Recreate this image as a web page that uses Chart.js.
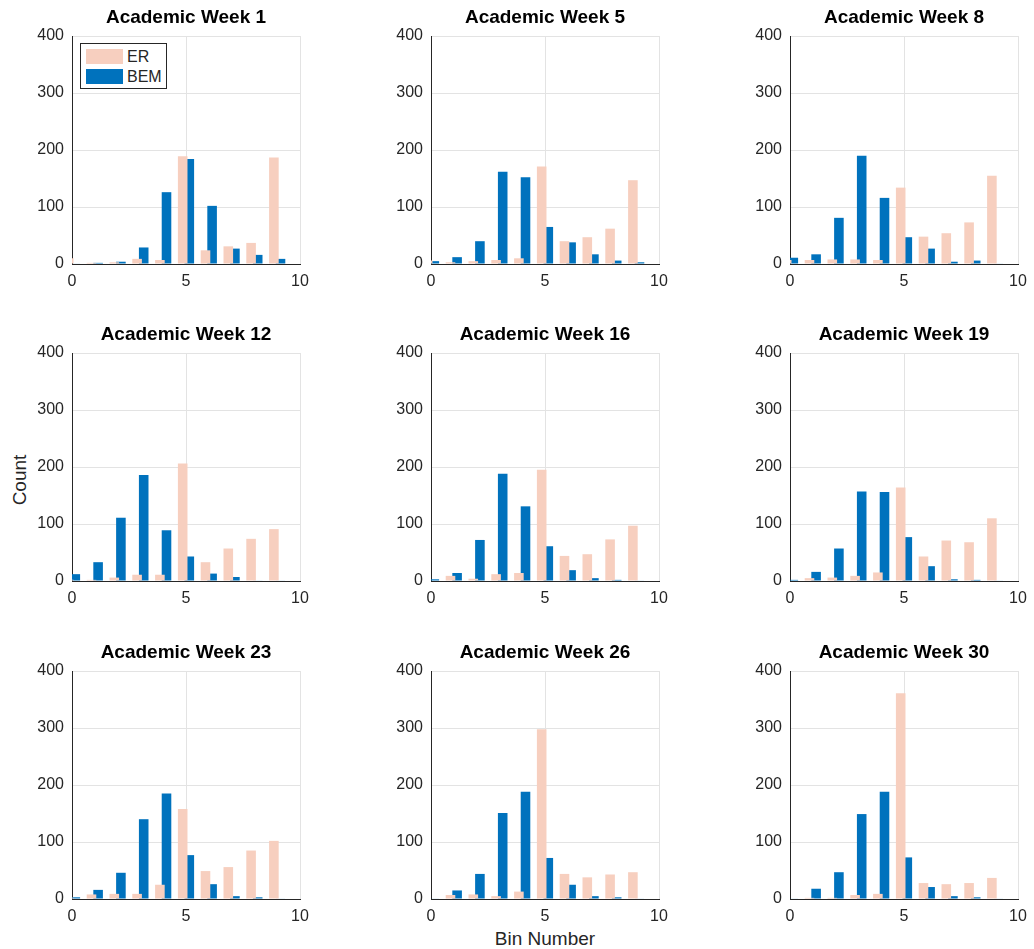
<!DOCTYPE html>
<html>
<head>
<meta charset="utf-8">
<script src="https://cdn.jsdelivr.net/npm/chart.js@4"></script>
<style>
  body { margin: 0; background: #fff; width: 1034px; height: 949px; position: relative; overflow: hidden;
         font-family: "Liberation Sans", Arial, sans-serif; color: #262626; }
  canvas.panel { position: absolute; }
  .label { position: absolute; font-size: 19px; line-height: 22px; color: #262626; white-space: nowrap; }
  #legend { position: absolute; left: 80px; top: 43px; width: 85px; height: 44px; border: 1px solid #262626;
            background: #fff; font-size: 16px; }
  #legend .row { position: absolute; left: 5px; height: 15px; }
  #legend .sw { position: absolute; left: 0; top: 0; width: 37px; height: 15px; }
  #legend .tx { position: absolute; left: 41px; top: -2px; line-height: 19px; }
</style>
</head>
<body>

<div class="label" style="left:20px; top:480px; transform: translate(-50%, -50%) rotate(-90deg);">Count</div>
<div class="label" style="left:545px; top:939px; transform: translate(-50%, -50%);">Bin Number</div>

<script>
// ### data ###
const BINS = [0, 1, 2, 3, 4, 5, 6, 7, 8, 9];
const WEEKS = [1, 5, 8, 12, 16, 19, 23, 26, 30];
const Y_TICKS = [0, 100, 200, 300, 400];
const X_TICKS = [0, 5, 10];

const ER_W1  = [10, 2, 3, 9, 7, 189, 24, 31, 37, 187];
const BEM_W1 = [1, 2, 4, 29, 126, 184, 102, 27, 16, 9];
const ER_W5  = [6, 3, 5, 7, 10, 171, 40, 47, 62, 147];
const BEM_W5 = [5, 12, 40, 162, 152, 65, 38, 17, 6, 3];
const ER_W8  = [7, 7, 8, 8, 7, 134, 48, 54, 73, 155];
const BEM_W8 = [11, 17, 81, 190, 116, 47, 27, 4, 6, 1];
const ER_W12  = [2, 2, 6, 11, 11, 206, 33, 57, 74, 91];
const BEM_W12 = [12, 33, 111, 186, 89, 43, 13, 7, 1, 1];
const ER_W16  = [1, 9, 4, 12, 14, 195, 44, 47, 73, 97];
const BEM_W16 = [3, 14, 72, 188, 131, 61, 19, 5, 2, 1];
const ER_W19  = [1, 5, 6, 9, 15, 164, 43, 71, 68, 110];
const BEM_W19 = [2, 16, 57, 157, 156, 77, 26, 3, 2, 1];
const ER_W23  = [2, 8, 9, 9, 25, 158, 49, 56, 85, 102];
const BEM_W23 = [3, 16, 46, 140, 185, 77, 26, 5, 3, 1];
const ER_W26  = [1, 7, 8, 5, 13, 298, 44, 38, 43, 47];
const BEM_W26 = [1, 15, 44, 151, 188, 72, 25, 5, 3, 1];
const ER_W30  = [1, 2, 2, 7, 9, 361, 28, 26, 28, 37];
const BEM_W30 = [1, 18, 47, 149, 188, 73, 21, 5, 3, 1];

const ER_SERIES  = [ER_W1, ER_W5, ER_W8, ER_W12, ER_W16, ER_W19, ER_W23, ER_W26, ER_W30];
const BEM_SERIES = [BEM_W1, BEM_W5, BEM_W8, BEM_W12, BEM_W16, BEM_W19, BEM_W23, BEM_W26, BEM_W30];

// ### colors ###
const PEACH = "#f7cfbf";
const BLUE = "#0072bd";
const AXIS = "#262626";
const GRID = "#e3e3e3";

// ### layout ###
const COL_LEFT = [72, 431, 790];
const ROW_TOP = [36, 353, 671];
const PLOT = 228;
const SIDE = 50; // room for y tick labels; the right side only needs room for the "10" label
const X_AXIS_H = 30;
const TITLE_H = 40;
const FONT = "Liberation Sans, Arial, sans-serif";

function toPoints(values) {
  return BINS.map((b, i) => ({ x: b, y: values[i] }));
}

function renderPanel(index) {
  const row = Math.floor(index / 3);
  const col = index % 3;
  const canvas = document.createElement("canvas");
  canvas.className = "panel";
  canvas.style.left = (COL_LEFT[col] - SIDE) + "px";
  canvas.style.top = (ROW_TOP[row] - TITLE_H) + "px";
  canvas.style.width = (SIDE + PLOT + SIDE) + "px";
  canvas.style.height = (TITLE_H + PLOT + X_AXIS_H) + "px";
  document.body.appendChild(canvas);

  new Chart(canvas, {
    type: "bar",
    data: {
      datasets: [
        { label: "ER", data: toPoints(ER_SERIES[index]), backgroundColor: PEACH, borderWidth: 0 },
        { label: "BEM", data: toPoints(BEM_SERIES[index]), backgroundColor: BLUE, borderWidth: 0 },
      ],
    },
    options: {
      responsive: false,
      animation: false,
      events: [],
      layout: { padding: { left: 0, right: SIDE, top: 0, bottom: 0 } },
      categoryPercentage: 0.58,
      barPercentage: 1.45,
      plugins: {
        legend: { display: false },
        tooltip: { enabled: false },
        title: {
          display: true,
          fullSize: false,
          text: "Academic Week " + WEEKS[index],
          color: "#000",
          font: { family: FONT, size: 19, weight: "bold" },
          padding: { top: 10.6, bottom: 6.6 },
        },
      },
      scales: {
        x: {
          type: "linear",
          min: 0,
          max: 10,
          offset: false,
          afterFit: (scale) => { scale.height = X_AXIS_H; },
          afterBuildTicks: (scale) => { scale.ticks = X_TICKS.map((v) => ({ value: v })); },
          grid: { color: GRID, drawTicks: false, offset: false },
          border: { display: true, color: AXIS, width: 1 },
          ticks: { color: AXIS, padding: 8, maxRotation: 0, font: { family: FONT, size: 16 } },
        },
        y: {
          min: 0,
          max: 400,
          afterFit: (scale) => { scale.width = SIDE; },
          afterBuildTicks: (scale) => { scale.ticks = Y_TICKS.map((v) => ({ value: v })); },
          grid: { color: GRID, drawTicks: false },
          border: { display: true, color: AXIS, width: 1 },
          ticks: { color: AXIS, padding: 8, font: { family: FONT, size: 16 } },
        },
      },
    },
  });
}

function renderLegend() {
  const box = document.createElement("div");
  box.id = "legend";
  box.innerHTML =
    '<div class="row" style="top:5px"><div class="sw" style="background:' + PEACH + '"></div><div class="tx">ER</div></div>' +
    '<div class="row" style="top:25px"><div class="sw" style="background:' + BLUE + '"></div><div class="tx">BEM</div></div>';
  document.body.appendChild(box);
}

// ### application start ###
WEEKS.forEach((w, i) => renderPanel(i));
renderLegend();
</script>
</body>
</html>
